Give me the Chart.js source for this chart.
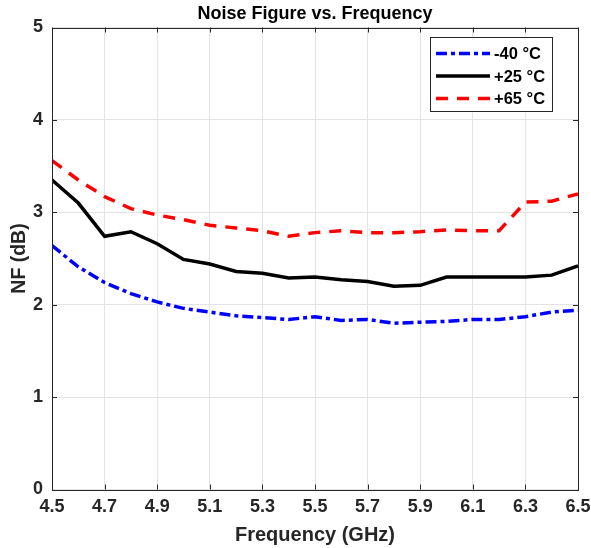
<!DOCTYPE html>
<html>
<head>
<meta charset="utf-8">
<script src="https://cdn.jsdelivr.net/npm/chart.js@4.4.1/dist/chart.umd.min.js"></script>
<style>
  html, body { margin: 0; padding: 0; background: #fff; }
  #wrap { width: 591px; height: 548px; }
</style>
</head>
<body>
<div id="wrap"><canvas id="myChart" width="591" height="548"></canvas></div>
<script>
var freq = [4.5, 4.6, 4.7, 4.8, 4.9, 5.0, 5.1, 5.2, 5.3, 5.4, 5.5, 5.6, 5.7, 5.8, 5.9, 6.0, 6.1, 6.2, 6.3, 6.4, 6.5];
var nfMinus40 = [2.64, 2.41, 2.24, 2.12, 2.03, 1.96, 1.92, 1.88, 1.86, 1.84, 1.87, 1.83, 1.84, 1.80, 1.81, 1.82, 1.84, 1.84, 1.87, 1.92, 1.94];
var nfPlus25 = [3.35, 3.10, 2.74, 2.79, 2.66, 2.49, 2.44, 2.36, 2.34, 2.29, 2.30, 2.27, 2.25, 2.20, 2.21, 2.30, 2.30, 2.30, 2.30, 2.32, 2.42];
var nfPlus65 = [3.56, 3.35, 3.17, 3.04, 2.97, 2.92, 2.86, 2.83, 2.80, 2.74, 2.78, 2.80, 2.78, 2.78, 2.79, 2.81, 2.80, 2.80, 3.11, 3.12, 3.20];
var seriesLabels = ['-40 \u00B0C', '+25 \u00B0C', '+65 \u00B0C'];
var xTicks = [4.5, 4.7, 4.9, 5.1, 5.3, 5.5, 5.7, 5.9, 6.1, 6.3, 6.5];
var yTicks = [0, 1, 2, 3, 4, 5];

var axisColor = '#262626';
var fontFamily = '"Liberation Sans", Arial, Helvetica, sans-serif';

function toPoints(ys) {
    var pts = [];
    for (var i = 0; i < freq.length; i++) {
        pts.push({x: freq[i], y: ys[i]});
    }
    return pts;
}

// box, inward ticks and legend drawn like the matlab figure
var boxPlugin = {
    id: 'boxPlugin',
    afterDatasetsDraw: function(chart) {
        var c = chart.ctx;
        var a = chart.chartArea;
        var xs = chart.scales.x, ys = chart.scales.y;
        c.save();
        c.strokeStyle = axisColor;
        c.lineWidth = 1;
        c.beginPath();
        for (var i = 0; i < xTicks.length; i++) {
            var px = Math.round(xs.getPixelForValue(xTicks[i])) + 0.5;
            c.moveTo(px, a.bottom); c.lineTo(px, a.bottom - 5);
            c.moveTo(px, a.top); c.lineTo(px, a.top + 5);
        }
        for (var j = 0; j < yTicks.length; j++) {
            var py = Math.round(ys.getPixelForValue(yTicks[j])) + 0.5;
            c.moveTo(a.left, py); c.lineTo(a.left + 5, py);
            c.moveTo(a.right, py); c.lineTo(a.right - 5, py);
        }
        c.stroke();
        c.strokeRect(Math.round(a.left) + 0.5, Math.round(a.top) + 0.5,
            Math.round(a.right - a.left), Math.round(a.bottom - a.top));

        // legend
        var lx = 430, ly = 37, lw = 122, lh = 74;
        c.fillStyle = '#fff';
        c.fillRect(lx, ly, lw, lh);
        c.strokeRect(lx + 0.5, ly + 0.5, lw, lh);
        var rows = [53.5, 76, 98.5];
        c.font = 'bold 16.5px ' + fontFamily;
        c.textBaseline = 'middle';
        for (var k = 0; k < chart.data.datasets.length; k++) {
            var ds = chart.data.datasets[k];
            c.save();
            c.strokeStyle = ds.borderColor;
            c.lineWidth = ds.borderWidth;
            c.setLineDash(ds.borderDash || []);
            c.beginPath();
            c.moveTo(436, rows[k]);
            c.lineTo(490, rows[k]);
            c.stroke();
            c.restore();
            c.fillStyle = '#000';
            c.fillText(ds.label, 494, rows[k] + 1);
        }
        c.restore();
    }
};

var ctx = document.getElementById('myChart').getContext('2d');
var chart = new Chart(ctx, {
    type: 'line',
    data: {
        datasets: [
            {
                label: seriesLabels[0],
                data: toPoints(nfMinus40),
                borderColor: '#0000ff',
                borderWidth: 3.5,
                borderDash: [11, 4, 4, 4],
                pointRadius: 0,
                tension: 0,
                fill: false
            },
            {
                label: seriesLabels[1],
                data: toPoints(nfPlus25),
                borderColor: '#000000',
                borderWidth: 3.5,
                pointRadius: 0,
                tension: 0,
                fill: false
            },
            {
                label: seriesLabels[2],
                data: toPoints(nfPlus65),
                borderColor: '#ff0000',
                borderWidth: 3.5,
                borderDash: [12, 9],
                pointRadius: 0,
                tension: 0,
                fill: false
            }
        ]
    },
    options: {
        responsive: false,
        animation: false,
        layout: {autoPadding: false, padding: {left: 0, right: 13, top: 0, bottom: 0}},
        plugins: {
            legend: {display: false},
            tooltip: {enabled: false},
            title: {
                display: true,
                text: 'Noise Figure vs. Frequency',
                color: '#000',
                fullSize: false,
                font: {family: fontFamily, size: 18, weight: 'bold', lineHeight: 1},
                padding: {top: 5, bottom: 4.5}
            }
        },
        scales: {
            x: {
                type: 'linear',
                min: 4.5,
                max: 6.5,
                afterBuildTicks: function(scale) {
                    scale.ticks = xTicks.map(function(v) { return {value: v}; });
                },
                afterFit: function(scale) {
                    scale.height = 58.5;
                    scale.paddingLeft = 0;
                    scale.paddingRight = 0;
                },
                ticks: {
                    color: axisColor,
                    maxRotation: 0,
                    autoSkip: false,
                    padding: 7,
                    font: {family: fontFamily, size: 18, weight: 'bold'},
                    callback: function(v) { return v.toFixed(1); }
                },
                grid: {color: '#e3e3e3', drawTicks: false},
                border: {display: false},
                title: {
                    display: true,
                    text: 'Frequency (GHz)',
                    color: axisColor,
                    font: {family: fontFamily, size: 20, weight: 'bold'},
                    padding: {top: 0, bottom: 1}
                }
            },
            y: {
                min: 0,
                max: 5,
                afterBuildTicks: function(scale) {
                    scale.ticks = yTicks.map(function(v) { return {value: v}; });
                },
                afterFit: function(scale) {
                    scale.width = 52;
                    scale.paddingTop = 0;
                    scale.paddingBottom = 0;
                },
                ticks: {
                    color: axisColor,
                    padding: 9,
                    font: {family: fontFamily, size: 18, weight: 'bold'}
                },
                grid: {color: '#e3e3e3', drawTicks: false},
                border: {display: false},
                title: {
                    display: true,
                    text: 'NF (dB)',
                    color: axisColor,
                    font: {family: fontFamily, size: 19.5, weight: 'bold'},
                    padding: {top: 8, bottom: 0}
                }
            }
        }
    },
    plugins: [boxPlugin]
});
</script>
</body>
</html>
